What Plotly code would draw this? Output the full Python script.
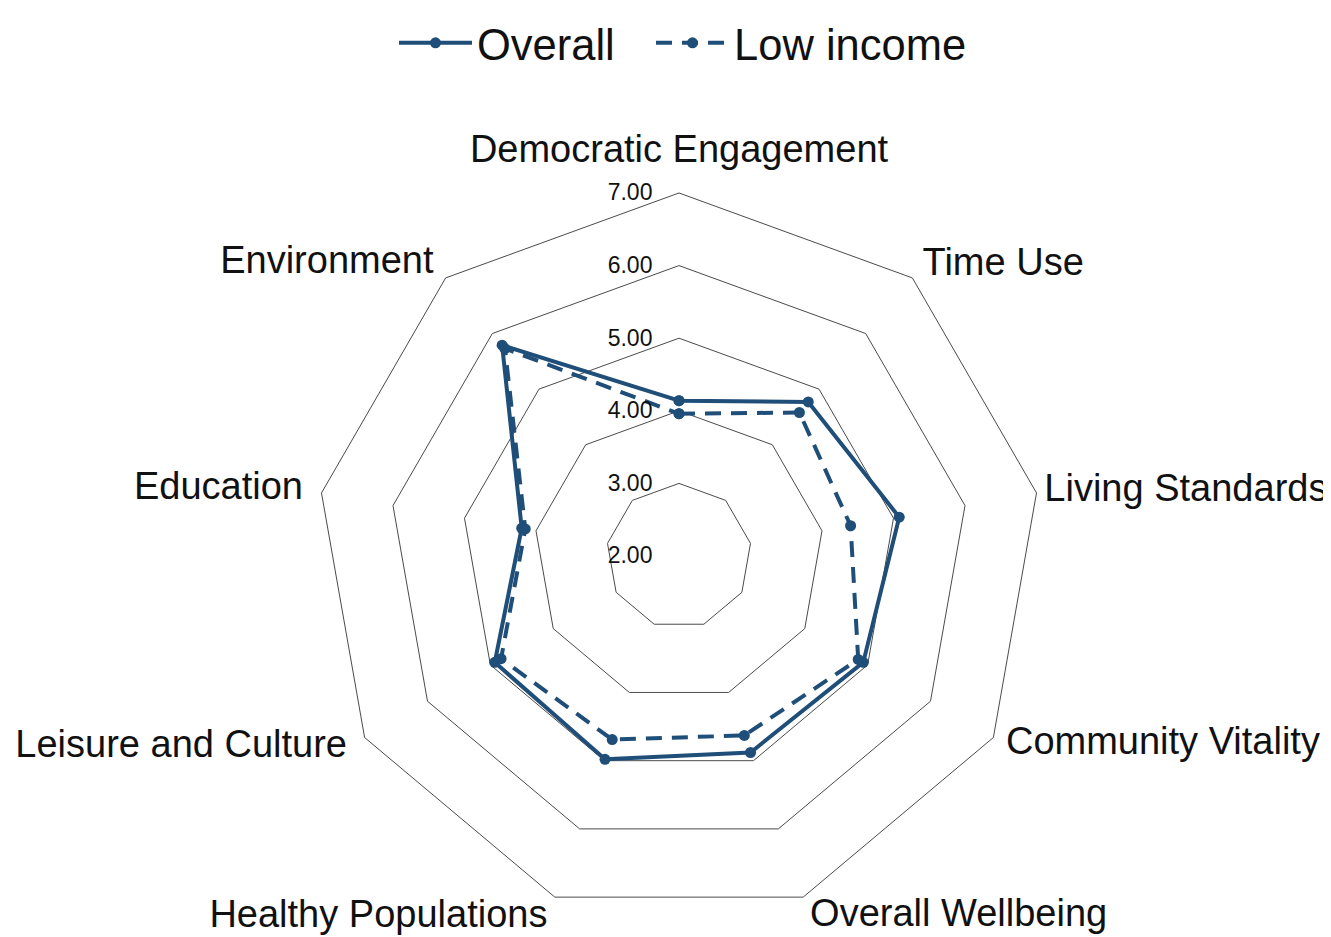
import plotly.graph_objects as go

categories = ["Democratic Engagement", "Time Use", "Living Standards", "Community Vitality",
              "Overall Wellbeing", "Healthy Populations", "Leisure and Culture", "Education",
              "Environment"]
overall = [4.14, 4.77, 5.08, 4.93, 4.88, 4.98, 4.93, 4.20, 5.79]
low_income = [3.96, 4.58, 4.40, 4.85, 4.63, 4.69, 4.83, 4.15, 5.73]
radial_ticks = [2, 3, 4, 5, 6, 7]

color = "#1f4e79"
W, H = 1331, 937
r_min, r_max = 2, 7.3
cx, cy, R = 671, 548, 384.8
label_r = [7.3, 7.22, 7.11, 7.2, 7.28, 7.3, 7.28, 7.26, 7.26]
label_pos = ["top center", "middle right", "middle right", "middle right", "middle right",
             "middle left", "middle left", "middle left", "middle left"]

fig = go.Figure()
fig.add_trace(go.Scatterpolar(
    r=overall + overall[:1], theta=categories + categories[:1], name="Overall",
    mode="lines+markers", line=dict(color=color, width=4),
    marker=dict(size=11, color=color), legend="legend"))
fig.add_trace(go.Scatterpolar(
    r=low_income + low_income[:1], theta=categories + categories[:1], name="Low income",
    mode="lines+markers", line=dict(color=color, width=4, dash="16px,10px"),
    marker=dict(size=11, color=color), legend="legend2"))
# category labels placed just outside the outer ring
fig.add_trace(go.Scatterpolar(
    r=label_r, theta=categories, mode="text", text=categories,
    textposition=label_pos, textfont=dict(size=38, color="#111111"),
    showlegend=False, cliponaxis=False, hoverinfo="skip"))

fig.update_layout(
    width=W, height=H,
    margin=dict(l=0, r=0, t=0, b=0),
    paper_bgcolor="white", plot_bgcolor="white",
    font=dict(family="Liberation Sans, Arial, sans-serif", color="#111111"),
    showlegend=True,
    legend=dict(orientation="h", x=386 / W, xanchor="left", y=1, yanchor="top",
                font=dict(size=43.5, color="#111111"), itemwidth=73),
    legend2=dict(orientation="h", x=643 / W, xanchor="left", y=1, yanchor="top",
                 font=dict(size=43.5, color="#111111"), itemwidth=73),
    polar=dict(
        domain=dict(x=[(cx - R) / W, (cx + R) / W],
                    y=[max(0, (H - cy - R) / H), min(1, (H - cy + R) / H)]),
        bgcolor="rgba(0,0,0,0)",
        gridshape="linear",
        radialaxis=dict(range=[r_min, r_max], tickvals=radial_ticks, tickformat=".2f",
                        angle=90, tickangle=90, side="counterclockwise",
                        showline=False, ticks="outside", ticklen=18,
                        tickcolor="rgba(0,0,0,0)", gridcolor="#4a4a4a", gridwidth=1.4,
                        tickfont=dict(size=23, color="#111111")),
        angularaxis=dict(direction="clockwise", rotation=90, showgrid=False,
                         showline=False, ticks="", showticklabels=False),
    ),
)
fig.write_html("out.html")
